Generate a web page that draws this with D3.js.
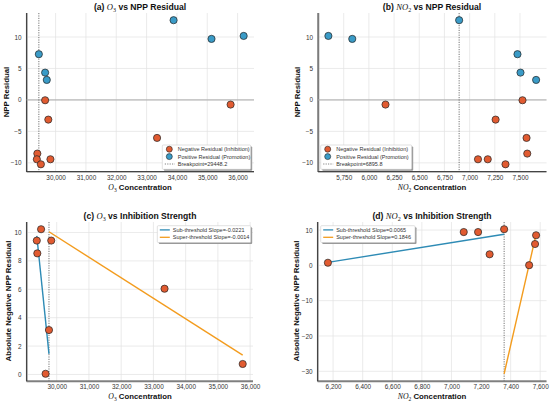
<!DOCTYPE html>
<html>
<head>
<meta charset="utf-8">
<script src="https://cdn.jsdelivr.net/npm/d3@7"></script>
<style>
body { margin: 0; background: #fff; }
text { font-family: "Liberation Sans", Arial, sans-serif; }
</style>
</head>
<body>
<svg id="fig" width="550" height="403"></svg>
<script>
// observations (same sites in every panel)
var residual = [7.27, 4.34, 3.18, -0.05, -3.13, -8.53, -9.43, -10.23, -9.43, 12.67, 9.70, 10.17, -0.74, -6.04];
var o3 = [29448, 29655, 29710, 29655, 29760, 29398, 29382, 29515, 29830, 33890, 35140, 36200, 35770, 33345];
var no2 = [7475, 7505, 7660, 7525, 7258, 7572, 7083, 7356, 7180, 6896, 5835, 5598, 6165, 7565];

// breakpoints
var bpO3Res = 29448.2;
var bpNO2Res = 6895.8;
var bpO3Inh = 29760;
var bpNO2Inh = 7356;

// piecewise fits (end points)
var o3SubX = [29382, 29760], o3SubY = [9.76, 1.45];
var o3SupX = [29760, 35770], o3SupY = [10.05, 1.36];
var no2SubX = [6165, 7356], no2SubY = [0.85, 8.8];
var no2SupX = [7356, 7572], no2SupY = [-30.7, 8.8];

var o3SubLabel = 'Sub-threshold Slope=-0.0221';
var o3SupLabel = 'Super-threshold Slope=-0.0014';
var no2SubLabel = 'Sub-threshold Slope=0.0065';
var no2SupLabel = 'Super-threshold Slope=0.1846';

// tick values
var o3Ticks = [30000, 31000, 32000, 33000, 34000, 35000, 36000];
var no2ResTicks = [5750, 6000, 6250, 6500, 6750, 7000, 7250, 7500];
var no2InhTicks = [6200, 6400, 6600, 6800, 7000, 7200, 7400, 7600];
var resTicks = [-10, -5, 0, 5, 10];
var o3InhTicks = [0, 2, 4, 6, 8, 10];
var no2InhYTicks = [-30, -20, -10, 0, 10];

var RED = '#E15B31', BLUE = '#3A9BC7';
var LBLUE = '#2E8BB5', LORANGE = '#F39C1E';

var svg = d3.select('#fig');
var fmt = d3.format(',');

// pad like matplotlib (5% each side)
function padded(vals) {
	var e = d3.extent(vals);
	var p = (e[1] - e[0]) * 0.05;
	return [e[0] - p, e[1] + p];
}

// text with a math-style subscripted gas name
function richText(g, x, y, parts, size, anchor) {
	var t = g.append('text')
		.attr('x', x).attr('y', y)
		.attr('text-anchor', anchor || 'middle')
		.attr('font-size', size)
		.attr('font-weight', 'bold')
		.attr('fill', '#111');
	parts.forEach(function(p) {
		var s = t.append('tspan').text(p[0]);
		if (p[1] == 'm') {
			s.attr('font-family', '"Liberation Serif", "DejaVu Serif", serif')
				.attr('font-style', 'italic').attr('font-weight', 'normal');
		}
		if (p[1] == 's') {
			s.attr('font-family', '"Liberation Serif", "DejaVu Serif", serif')
				.attr('font-weight', 'normal')
				.attr('font-size', size * 0.7).attr('dy', size * 0.25);
		}
		if (p[1] == 'r') {
			s.attr('dy', -size * 0.25);
		}
	});
	return t;
}

function gasParts(name, sub) {
	return [[name, 'm'], [sub, 's']];
}

function panel(box, xDom, yDom, xTicks, yTicks) {
	var x = d3.scaleLinear().domain(xDom).range([box.x0, box.x1]);
	var y = d3.scaleLinear().domain(yDom).range([box.y1, box.y0]);
	var g = svg.append('g');

	// grid
	g.selectAll('.vg').data(xTicks).enter().append('line')
		.attr('x1', function(d){ return x(d); }).attr('x2', function(d){ return x(d); })
		.attr('y1', box.y0).attr('y2', box.y1)
		.attr('stroke', '#e3e3e3').attr('stroke-width', 0.7);
	g.selectAll('.hg').data(yTicks).enter().append('line')
		.attr('y1', function(d){ return y(d); }).attr('y2', function(d){ return y(d); })
		.attr('x1', box.x0).attr('x2', box.x1)
		.attr('stroke', '#e3e3e3').attr('stroke-width', 0.7);

	// axes
	var xAxis = d3.axisBottom(x).tickValues(xTicks).tickFormat(fmt).tickSize(0).tickPadding(3.5);
	var yAxis = d3.axisLeft(y).tickValues(yTicks).tickSize(0).tickPadding(5);
	var gx = g.append('g').attr('transform', 'translate(0,' + box.y1 + ')').call(xAxis);
	var gy = g.append('g').attr('transform', 'translate(' + box.x0 + ',0)').call(yAxis);
	[gx, gy].forEach(function(a) {
		a.select('.domain').remove();
		a.selectAll('text').attr('font-size', 6.4).attr('fill', '#333')
			.attr('font-family', '"Liberation Sans", Arial, sans-serif');
	});

	// spines (left and bottom, with a soft shadow)
	g.append('path')
		.attr('d', 'M' + (box.x0 + 0.8) + ',' + box.y0 + 'V' + (box.y1 + 0.8) + 'H' + box.x1)
		.attr('fill', 'none').attr('stroke', '#bbb').attr('stroke-width', 1.4);
	g.append('path')
		.attr('d', 'M' + box.x0 + ',' + box.y0 + 'V' + box.y1 + 'H' + box.x1)
		.attr('fill', 'none').attr('stroke', '#444').attr('stroke-width', 1.1);

	return {g: g, x: x, y: y, box: box};
}

function dots(p, xs, ys, colorFn) {
	p.g.selectAll('.dot').data(xs).enter().append('circle')
		.attr('cx', function(d){ return p.x(d); })
		.attr('cy', function(d, i){ return p.y(ys[i]); })
		.attr('r', 3.6)
		.attr('fill', function(d, i){ return colorFn(i); })
		.attr('stroke', '#222').attr('stroke-width', 0.7);
}

function bpLine(p, v) {
	p.g.append('line')
		.attr('x1', p.x(v)).attr('x2', p.x(v))
		.attr('y1', p.box.y0).attr('y2', p.box.y1)
		.attr('stroke', '#666').attr('stroke-width', 0.9)
		.attr('stroke-dasharray', '1.2,1.2');
}

function zeroLine(p) {
	p.g.append('line')
		.attr('x1', p.box.x0).attr('x2', p.box.x1)
		.attr('y1', p.y(0)).attr('y2', p.y(0))
		.attr('stroke', '#aaa').attr('stroke-width', 1);
}

function fitLine(p, xs, ys, color) {
	var lineGen = d3.line()
		.x(function(d){ return p.x(d); })
		.y(function(d, i){ return p.y(ys[i]); });
	p.g.append('path').datum(xs)
		.attr('d', lineGen)
		.attr('fill', 'none').attr('stroke', color).attr('stroke-width', 1.4);
}

// legend box with shadow; items: [type, color, label]
function legend(x0, y0, w, h, items) {
	var g = svg.append('g');
	g.append('rect').attr('x', x0 + 1.5).attr('y', y0 + 1.5).attr('width', w).attr('height', h)
		.attr('fill', '#999').attr('rx', 1);
	g.append('rect').attr('x', x0).attr('y', y0).attr('width', w).attr('height', h)
		.attr('fill', '#fff').attr('stroke', '#ccc').attr('stroke-width', 0.6).attr('rx', 1);
	items.forEach(function(it, i) {
		var cy = y0 + 4.2 + i * 7.4;
		if (it[0] == 'dot') {
			g.append('circle').attr('cx', x0 + 7).attr('cy', cy).attr('r', 3)
				.attr('fill', it[1]).attr('stroke', '#222').attr('stroke-width', 0.6);
		} else if (it[0] == 'dash') {
			g.append('line').attr('x1', x0 + 2.5).attr('x2', x0 + 12.5).attr('y1', cy).attr('y2', cy)
				.attr('stroke', it[1]).attr('stroke-width', 0.9).attr('stroke-dasharray', '1.2,1.2');
		} else {
			g.append('line').attr('x1', x0 + 2.5).attr('x2', x0 + 12.5).attr('y1', cy).attr('y2', cy)
				.attr('stroke', it[1]).attr('stroke-width', 1.3);
		}
		g.append('text').attr('x', x0 + 15.5).attr('y', cy + 1.9)
			.attr('font-size', 5.5).attr('fill', '#333').text(it[2]);
	});
}

function resColor(i) { return residual[i] < 0 ? RED : BLUE; }

// negative residuals only, for the inhibition panels
var negIdx = d3.range(residual.length).filter(function(i){ return residual[i] < 0; });
var negO3 = negIdx.map(function(i){ return o3[i]; });
var negNO2 = negIdx.map(function(i){ return no2[i]; });
var negAbs = negIdx.map(function(i){ return Math.abs(residual[i]); });

var boxA = {x0: 26.5, x1: 254, y0: 13, y1: 171.5};
var boxB = {x0: 318, x1: 546.5, y0: 13, y1: 171.5};
var boxC = {x0: 26.5, x1: 253, y0: 222, y1: 381};
var boxD = {x0: 317.5, x1: 546.5, y0: 222, y1: 381};

// (a)
var pa = panel(boxA, padded(o3), padded(residual), o3Ticks, resTicks);
zeroLine(pa);
bpLine(pa, bpO3Res);
dots(pa, o3, residual, resColor);
richText(svg, 140, 10, [['(a) ', 'b']].concat(gasParts('O', '3')).concat([[' vs NPP Residual', 'r']]), 8.6);
richText(svg, 140, 190, gasParts('O', '3').concat([[' Concentration', 'r']]), 7.8);
svg.append('text').attr('transform', 'translate(9,92) rotate(-90)').attr('text-anchor', 'middle')
	.attr('font-size', 7.8).attr('font-weight', 'bold').attr('fill', '#111').text('NPP Residual');
legend(162.3, 145, 88.4, 24.3, [
	['dot', RED, 'Negative Residual (Inhibition)'],
	['dot', BLUE, 'Positive Residual (Promotion)'],
	['dash', '#777', 'Breakpoint=' + bpO3Res]
]);

// (b)
var pb = panel(boxB, padded(no2), padded(residual), no2ResTicks, resTicks);
zeroLine(pb);
bpLine(pb, bpNO2Res);
dots(pb, no2, residual, resColor);
richText(svg, 432, 10, [['(b) ', 'b']].concat(gasParts('NO', '2')).concat([[' vs NPP Residual', 'r']]), 8.6);
richText(svg, 432, 190, gasParts('NO', '2').concat([[' Concentration', 'r']]), 7.8);
svg.append('text').attr('transform', 'translate(300,92) rotate(-90)').attr('text-anchor', 'middle')
	.attr('font-size', 7.8).attr('font-weight', 'bold').attr('fill', '#111').text('NPP Residual');
legend(320.7, 145, 91, 24.3, [
	['dot', RED, 'Negative Residual (Inhibition)'],
	['dot', BLUE, 'Positive Residual (Promotion)'],
	['dash', '#777', 'Breakpoint=' + bpNO2Res]
]);

// (c)
var pc = panel(boxC, padded(negO3), padded(negAbs.concat(o3SubY, o3SupY)), o3Ticks, o3InhTicks);
bpLine(pc, bpO3Inh);
fitLine(pc, o3SubX, o3SubY, LBLUE);
fitLine(pc, o3SupX, o3SupY, LORANGE);
dots(pc, negO3, negAbs, function(){ return RED; });
richText(svg, 140, 219, [['(c) ', 'b']].concat(gasParts('O', '3')).concat([[' vs Inhibition Strength', 'r']]), 8.6);
richText(svg, 140, 399, gasParts('O', '3').concat([[' Concentration', 'r']]), 7.8);
svg.append('text').attr('transform', 'translate(11,301) rotate(-90)').attr('text-anchor', 'middle')
	.attr('font-size', 7.8).attr('font-weight', 'bold').attr('fill', '#111').text('Absolute Negative NPP Residual');
legend(157.3, 225.7, 93.4, 16.8, [
	['line', LBLUE, o3SubLabel],
	['line', LORANGE, o3SupLabel]
]);

// (d)
var pd = panel(boxD, padded(negNO2), padded(negAbs.concat(no2SubY, no2SupY)), no2InhTicks, no2InhYTicks);
bpLine(pd, bpNO2Inh);
fitLine(pd, no2SubX, no2SubY, LBLUE);
fitLine(pd, no2SupX, no2SupY, LORANGE);
dots(pd, negNO2, negAbs, function(){ return RED; });
richText(svg, 432, 219, [['(d) ', 'b']].concat(gasParts('NO', '2')).concat([[' vs Inhibition Strength', 'r']]), 8.6);
richText(svg, 432, 399, gasParts('NO', '2').concat([[' Concentration', 'r']]), 7.8);
svg.append('text').attr('transform', 'translate(299,301) rotate(-90)').attr('text-anchor', 'middle')
	.attr('font-size', 7.8).attr('font-weight', 'bold').attr('fill', '#111').text('Absolute Negative NPP Residual');
legend(320.7, 225.7, 94.3, 16.8, [
	['line', LBLUE, no2SubLabel],
	['line', LORANGE, no2SupLabel]
]);
</script>
</body>
</html>
